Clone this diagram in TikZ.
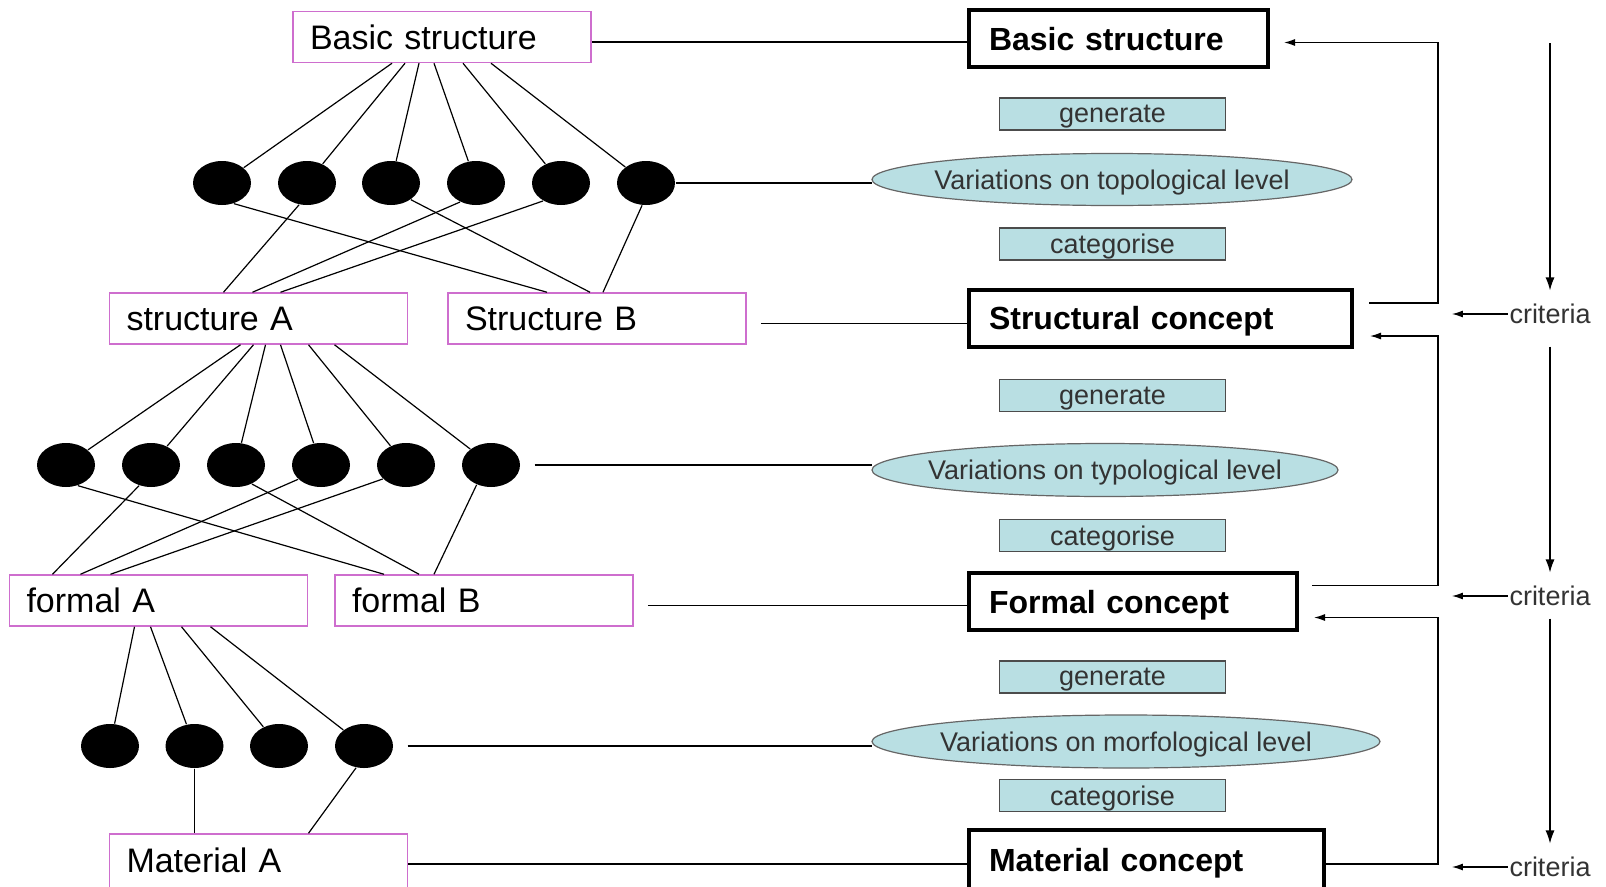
\documentclass[tikz,border=0pt]{standalone}
\usepackage{fontspec}
\setmainfont{Liberation Sans}
\usepackage{xcolor}
\usepackage{tikz}
\usetikzlibrary{arrows.meta, shapes.geometric}

\definecolor{pinkline}{RGB}{206,110,206}
\definecolor{varfill}{RGB}{185,223,227}
\newcommand{\leftfont}{\fontsize{34}{40}\selectfont}
\newcommand{\conceptfont}{\fontsize{32}{38}\selectfont\bfseries}
\newcommand{\smallfont}{\fontsize{27}{32}\selectfont}

\begin{document}
\begin{tikzpicture}[x=1pt, y=-1pt, line width=1.2pt,
    leftbox/.style={draw=pinkline, line width=1.5pt, fill=white, minimum height=51pt, text width=264pt, inner xsep=17pt, inner ysep=0pt, align=left, font=\leftfont},
    conceptbox/.style={draw=black, line width=4pt, fill=white, minimum height=57pt, text width=#1, text depth=0pt, inner xsep=20pt, inner ysep=0pt, align=left, font=\conceptfont},
    actbox/.style={draw=black!70, fill=varfill, line width=1.2pt, minimum width=226pt, minimum height=32pt, text depth=0pt, inner sep=0pt, text=black!80, font=\smallfont},
    varell/.style={ellipse, draw=black!60, fill=varfill, line width=1.2pt, inner sep=0pt,
        label={[inner sep=0pt, text depth=0pt, text=black!80, font=\smallfont]center:#1}},
    dot/.style={ellipse, fill=black, minimum width=58pt, minimum height=44pt, inner sep=0pt},
    gapline/.style={shorten <=14pt},
    fback/.style={line width=1.3pt, -{Latex[length=11pt,width=7pt]}},
    down/.style={line width=1.3pt, -{Latex[length=13pt,width=9pt]}, shorten >=13pt},
    crittext/.style={inner xsep=1pt, inner ysep=0pt, text=black!80, font=\smallfont}]
    \useasboundingbox (0,0) rectangle (1606,886);
    \fill[white] (0,0) rectangle (1606,886);

    % Left side: structures and variations
    \node[leftbox] (basL) at (442,37) {Basic structure};
    \node[leftbox] (strA) at (258.5,318.5) {structure A};
    \node[leftbox] (strB) at (597,318.5) {Structure B};
    \node[leftbox] (formA) at (158.5,600.5) {formal A};
    \node[leftbox] (formB) at (484,600.5) {formal B};
    \node[leftbox, minimum height=60pt, text depth=7pt] (matA) at (258.5,864) {Material A};

    \foreach \i/\x in {1/222, 2/307, 3/391, 4/476, 5/561, 6/646}
        \node[dot] (top\i) at (\x,183) {};
    \foreach \i/\x in {1/66, 2/151, 3/236, 4/321, 5/406, 6/491}
        \node[dot] (typ\i) at (\x,465) {};
    \foreach \i/\x in {1/110, 2/194.5, 3/279, 4/364}
        \node[dot] (mor\i) at (\x,746) {};

    % Right side: concepts
    \node[conceptbox=259pt] (basR) at (1118.5,38.5) {Basic structure};
    \node[conceptbox=343pt] (strC) at (1160.5,318) {Structural concept};
    \node[conceptbox=288pt] (formC) at (1133,601.5) {Formal concept};
    \node[conceptbox=315pt, minimum height=60pt] (matC) at (1146.5,860) {Material concept};

    \node[actbox] (gen1) at (1112.5,114) {generate};
    \node[varell={Variations on topological level}, minimum width=480pt, minimum height=52pt] (ell1) at (1112,179.5) {};
    \node[actbox] (cat1) at (1112.5,244) {categorise};
    \node[actbox] (gen2) at (1112.5,395.5) {generate};
    \node[varell={Variations on typological level}, minimum width=466pt, minimum height=53pt] (ell2) at (1105,470) {};
    \node[actbox] (cat2) at (1112.5,535.5) {categorise};
    \node[actbox] (gen3) at (1112.5,677) {generate};
    \node[varell={Variations on morfological level}, minimum width=508pt, minimum height=53pt] (ell3) at (1126,741.5) {};
    \node[actbox] (cat3) at (1112.5,795.5) {categorise};

    % Criteria column
    \node[crittext] (cr1) at (1550,314) {criteria};
    \node[crittext] (cr2) at (1550,596) {criteria};
    \node[crittext] (cr3) at (1550,867) {criteria};
    \coordinate (cstart) at (1550,43);
    \coordinate (rail) at (1438,0);

    % Tree lines
    \foreach \i/\dx in {1/-50, 2/-37, 3/-23, 4/-8, 5/21, 6/49}
        \draw ([xshift=\dx pt]basL.south) -- (top\i);
    \foreach \i/\a/\b/\dx in {1/-60/strB/-50, 2/-110/strA/-35, 3/-40/strB/-7, 4/-130/strA/-6, 5/-135/strA/22, 6/-100/strB/6}
        \draw (top\i.\a) -- ([xshift=\dx pt]\b.north);
    \foreach \i/\dx in {1/-18, 2/-5, 3/7, 4/22, 5/50, 6/76}
        \draw ([xshift=\dx pt]strA.south) -- (typ\i);
    \foreach \i/\a/\b/\dx in {1/-60/formB/-100, 2/-120/formA/-106, 3/-50/formB/-65, 4/-148/formA/-78, 5/-149/formA/-48, 6/-126/formB/-50}
        \draw (typ\i.\a) -- ([xshift=\dx pt]\b.north);
    \foreach \i/\dx in {1/-24, 2/-8, 3/23, 4/52}
        \draw ([xshift=\dx pt]formA.south) -- (mor\i);
    \draw (mor2.south) -- (mor2.south |- matA.north);
    \draw (mor4.-110) -- ([xshift=50pt]matA.north);

    % Links to the right column
    \draw ([yshift=-5pt]basL.east) -- ([yshift=-5pt]basL.east -| basR.west);
    \draw (top6.east) -- ([xshift=1pt]top6 -| ell1.west);
    \draw[gapline] ([yshift=-5pt]strB.east) -- ([yshift=-5pt]strB.east -| strC.west);
    \draw[gapline] (typ6.east) -- ([xshift=1pt]typ6 -| ell2.west);
    \draw[gapline] ([yshift=-5pt]formB.east) -- ([yshift=-5pt]formB.east -| formC.west);
    \draw[gapline] (mor4.east) -- ([xshift=1pt]mor4 -| ell3.west);
    \draw (matA.east) -- (matA.east -| matC.west);

    % Feedback arrows
    \coordinate (tip1) at ([xshift=14pt,yshift=-4pt]basR.east);
    \coordinate (tip2) at ([xshift=16pt,yshift=-18pt]strC.east);
    \coordinate (tip3) at ([xshift=15pt,yshift=-16pt]formC.east);
    \draw[fback] ([xshift=15pt,yshift=15pt]strC.east) -| (rail |- tip1) -- (tip1);
    \draw[fback] ([xshift=13pt,yshift=16pt]formC.east) -| (rail |- tip2) -- (tip2);
    \draw[fback] ([yshift=-4pt]matC.east) -| (rail |- tip3) -- (tip3);

    % Criteria arrows
    \draw[down] (cstart) -- (cr1);
    \draw[down, shorten <=22pt] (cr1) -- (cr2);
    \draw[down, shorten <=12pt] (cr2) -- (cr3);
    \foreach \c in {cr1, cr2, cr3} {
        \coordinate (\c a) at ([xshift=-56pt]\c.west);
        \draw[fback] (\c.west) -- (\c a);
    }
\end{tikzpicture}
\end{document}
